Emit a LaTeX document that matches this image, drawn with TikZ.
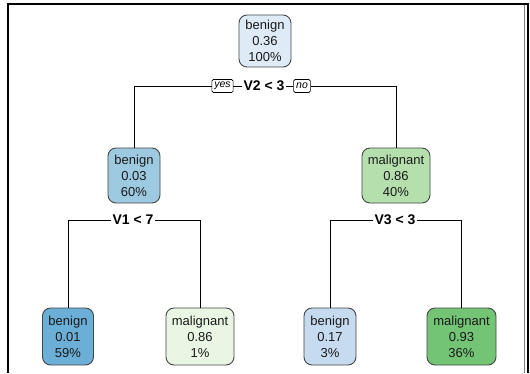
\documentclass[tikz,border=0pt]{standalone}
\usepackage{fontspec}
\setmainfont{Liberation Sans}
\definecolor{fillA}{HTML}{DEEBF7}
\definecolor{fillB}{HTML}{9ECAE1}
\definecolor{fillC}{HTML}{B5E0AD}
\definecolor{fillD}{HTML}{6BAED6}
\definecolor{fillE}{HTML}{E8F6E3}
\definecolor{fillF}{HTML}{C6DBEF}
\definecolor{fillG}{HTML}{74C476}
\definecolor{edgegray}{HTML}{454545}
\definecolor{txt}{HTML}{1A1A1A}
\begin{document}
\begin{tikzpicture}[x=1pt,y=-1pt,
  treenode/.style={draw=edgegray, line width=0.9pt, rounded corners=8pt,
    align=center, text=txt, inner xsep=3pt, inner ysep=2pt,
    font=\fontsize{13}{16}\selectfont},
  splitlabel/.style={fill=white, inner sep=1.5pt, text=black,
    font=\fontsize{14}{16}\selectfont\bfseries},
  yesno/.style={draw=black, line width=0.6pt, rounded corners=1.5pt, fill=white,
    inner xsep=2.5pt, inner ysep=1.5pt, minimum height=13pt,
    font=\fontsize{10.5}{12}\selectfont\itshape},
  branch/.style={draw=black, line width=0.6pt}]

\useasboundingbox (0,0) rectangle (530,373);
\fill[white] (0,0) rectangle (530,373);

% outer frame
\draw[line width=2pt] (8,373) -- (8,4) -- (527.5,4) -- (527.5,373);
\draw[gray, line width=0.6pt] (524.5,5) -- (524.5,373);

% nodes
\node[treenode, fill=fillA, minimum width=52pt, minimum height=52pt] (root) at (265,41) {benign\\0.36\\100\%};
\node[treenode, fill=fillB, minimum width=52pt, minimum height=55pt] (L) at (134,175.5) {benign\\0.03\\60\%};
\node[treenode, fill=fillC, minimum width=68pt, minimum height=55pt] (R) at (396,175.5) {malignant\\0.86\\40\%};
\node[treenode, fill=fillD, minimum width=51pt, minimum height=57pt] (LL) at (68,336.5) {benign\\0.01\\59\%};
\node[treenode, fill=fillE, minimum width=68pt, minimum height=57pt] (LR) at (200,336.5) {malignant\\0.86\\1\%};
\node[treenode, fill=fillF, minimum width=52pt, minimum height=57pt] (RL) at (330,336.5) {benign\\0.17\\3\%};
\node[treenode, fill=fillG, minimum width=69pt, minimum height=57pt] (RR) at (461.5,336.5) {malignant\\0.93\\36\%};

% split labels
\node[splitlabel] (s1) at (264,86) {V2 < 3};
\node[yesno] (yes) at (222.5,86) {yes};
\node[yesno] (no) at (302,86) {no};
\node[splitlabel] (s2) at (133,220) {V1 < 7};
\node[splitlabel] (s3) at (395,220) {V3 < 3};

% branches
\draw[branch] (s1.west) -- (yes.east);
\draw[branch] (s1.east) -- (no.west);
\draw[branch] (yes.west) -| (L.north);
\draw[branch] (no.east) -| (R.north);
\draw[branch] (s2.west) -| (LL.north);
\draw[branch] (s2.east) -| (LR.north);
\draw[branch] (s3.west) -| (RL.north);
\draw[branch] (s3.east) -| (RR.north);
\end{tikzpicture}
\end{document}
